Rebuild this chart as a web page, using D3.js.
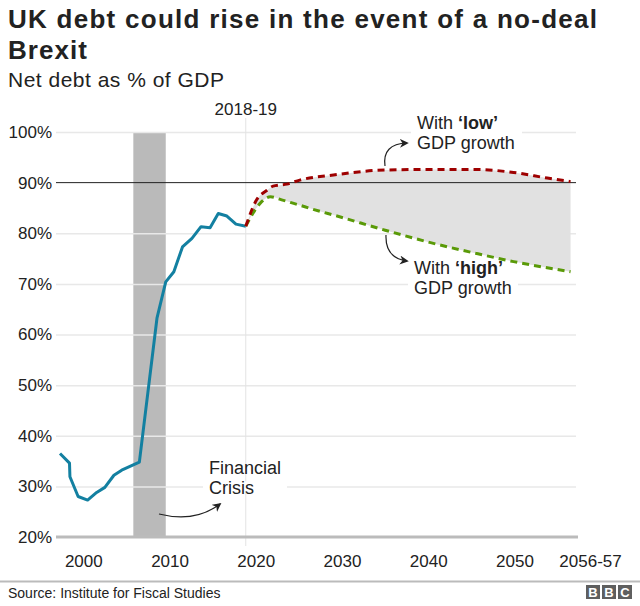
<!DOCTYPE html>
<html>
<head>
<meta charset="utf-8">
<script src="https://cdnjs.cloudflare.com/ajax/libs/d3/7.8.5/d3.min.js"></script>
<style>
  body { margin: 0; background: #fff; }
  svg { display: block; font-family: "Liberation Sans", Arial, Helvetica, sans-serif; }
</style>
</head>
<body>
<div id="chart"></div>
<script>
// Net debt as % of GDP
const outturnYears = [1997.3, 1998.4, 1998.45, 1999.4, 2000.5, 2001.55, 2002.5, 2003.55, 2004.45, 2006.5, 2008.55, 2009.56, 2010.5, 2011.5, 2012.6, 2013.65, 2014.7, 2015.65, 2016.65, 2017.7, 2018.84];
const outturnDebt  = [36.5, 34.6, 31.9, 28.0, 27.3, 28.8, 29.8, 32.2, 33.2, 34.8, 63.3, 70.4, 72.4, 77.3, 79.0, 81.3, 81.1, 83.9, 83.4, 81.8, 81.4];

const lowYears = [2018.84, 2020.1, 2021.3, 2022.0, 2023.6, 2025.1, 2029, 2035, 2040.6, 2045.6, 2049.9, 2053.8, 2056.5];
const lowDebt  = [81.4, 86.6, 88.5, 89.3, 89.7, 90.5, 91.5, 92.5, 92.6, 92.6, 92.0, 90.9, 90.2];

const highYears = [2018.84, 2020.5, 2021.7, 2023.0, 2024.4, 2027.5, 2029, 2035, 2040.6, 2045.6, 2049.9, 2056.5];
const highDebt  = [81.4, 85.9, 87.2, 86.6, 85.9, 84.3, 83.6, 80.6, 78.0, 76.0, 74.4, 72.4];

const crisisPeriod = [2005.8, 2009.56];
const forecastStart = 2018.84;

const yTicks = [20, 30, 40, 50, 60, 70, 80, 90, 100];
const xTicks = [2000, 2010, 2020, 2030, 2040, 2050];
const lastTickLabel = "2056-57";

const width = 640, height = 606;
const left = 56, right = 576;

const svg = d3.select('#chart').append('svg')
    .attr('width', width)
    .attr('height', height);

const x = d3.scaleLinear().domain([2000, 2050]).range([83.3, 514.5]);
const y = d3.scaleLinear().domain([20, 100]).range([537, 132]);

// Title block
svg.append('text').attr('x', 8).attr('y', 28)
    .attr('textLength', 589).attr('lengthAdjust', 'spacing')
    .style('font-size', '26px').style('font-weight', 'bold').style('fill', '#222')
    .text('UK debt could rise in the event of a no-deal');
svg.append('text').attr('x', 8).attr('y', 59)
    .attr('textLength', 79).attr('lengthAdjust', 'spacing')
    .style('font-size', '26px').style('font-weight', 'bold').style('fill', '#222')
    .text('Brexit');
svg.append('text').attr('x', 8).attr('y', 87)
    .attr('textLength', 216).attr('lengthAdjust', 'spacing')
    .style('font-size', '21px').style('fill', '#222')
    .text('Net debt as % of GDP');

// Crisis bar
svg.append('rect')
    .attr('x', x(crisisPeriod[0]))
    .attr('y', y(100))
    .attr('width', x(crisisPeriod[1]) - x(crisisPeriod[0]))
    .attr('height', y(20) - y(100))
    .attr('fill', '#bababa');

// Y axis with gridlines
const yAxis = svg.append('g')
    .attr('transform', `translate(${left},0)`)
    .call(d3.axisLeft(y).tickValues(yTicks).tickSize(-(right - left)).tickPadding(4).tickFormat(d => d + '%'));
yAxis.select('.domain').remove();
yAxis.selectAll('line').attr('stroke', '#e8e8e8').attr('stroke-width', 1.5);
yAxis.selectAll('text').style('font-size', '17px').style('fill', '#222').attr('font-family', null);
yAxis.selectAll('.tick').filter(d => d === 20 || d === 90).select('line').remove();

// Vertical 2018-19 marker
svg.append('line')
    .attr('x1', x(forecastStart)).attr('x2', x(forecastStart))
    .attr('y1', 118).attr('y2', 546)
    .attr('stroke', '#e3e3e3').attr('stroke-width', 1);
svg.append('text')
    .attr('x', x(forecastStart)).attr('y', 115)
    .attr('text-anchor', 'middle')
    .style('font-size', '17px').style('fill', '#222')
    .text('2018-19');

// White label backgrounds that break the gridlines
[[411, 522, 100], [408, 518, 70], [203, 287, 30]].forEach(([a, b, v]) => {
    svg.append('rect').attr('x', a).attr('width', b - a)
        .attr('y', y(v) - 5).attr('height', 10).attr('fill', '#fff');
});

// Shaded range between scenarios
const lowPts = lowYears.map((d, i) => [x(d), y(lowDebt[i])]);
const highPts = highYears.map((d, i) => [x(d), y(highDebt[i])]);
const smooth = d3.line().curve(d3.curveMonotoneX);
const areaPath = smooth(lowPts) + 'L' + smooth(highPts.slice().reverse()).slice(1) + 'Z';
svg.append('path').attr('d', areaPath).attr('fill', '#e1e1e1');

// Baseline
svg.append('line')
    .attr('x1', left).attr('x2', right + 2)
    .attr('y1', y(20)).attr('y2', y(20))
    .attr('stroke', '#bbb').attr('stroke-width', 3);

// 90% line
svg.append('line')
    .attr('x1', left).attr('x2', right)
    .attr('y1', y(90)).attr('y2', y(90))
    .attr('stroke', '#222').attr('stroke-width', 1);

// X axis
const xAxis = svg.append('g')
    .attr('transform', `translate(0,${y(20)})`)
    .call(d3.axisBottom(x).tickValues(xTicks).tickSize(0).tickPadding(18).tickFormat(d3.format('d')));
xAxis.select('.domain').remove();
xAxis.selectAll('text').style('font-size', '17px').style('fill', '#222').attr('font-family', null);
svg.append('text')
    .attr('x', x(2056.5) + 20).attr('y', y(20) + 18 + 12.1)
    .attr('text-anchor', 'middle')
    .style('font-size', '17px').style('fill', '#222')
    .text(lastTickLabel);

// Outturn line
svg.append('path')
    .datum(outturnYears.map((d, i) => [x(d), y(outturnDebt[i])]))
    .attr('d', d3.line())
    .attr('fill', 'none').attr('stroke', '#1380A1').attr('stroke-width', 3)
    .attr('stroke-linejoin', 'round');

// Scenario lines
svg.append('path').attr('d', smooth(highPts))
    .attr('fill', 'none').attr('stroke', '#5a9a08').attr('stroke-width', 3)
    .attr('stroke-dasharray', '7,5');
svg.append('path').attr('d', smooth(lowPts))
    .attr('fill', 'none').attr('stroke', '#9e0000').attr('stroke-width', 3)
    .attr('stroke-dasharray', '7,5');

// Arrow marker
svg.append('defs').append('marker')
    .attr('id', 'arrow')
    .attr('viewBox', '0 0 10 10')
    .attr('refX', 8).attr('refY', 5)
    .attr('markerWidth', 9).attr('markerHeight', 9)
    .attr('markerUnits', 'userSpaceOnUse')
    .attr('orient', 'auto')
    .append('path').attr('d', 'M0,0 L10,5 L0,10 L3,5 Z').attr('fill', '#222');

const arrows = [
    'M385,166 Q382,144 407,143',
    'M386,235 Q385,258 407,261',
    'M159,514 Q195,523 220,504'
];
arrows.forEach(d => {
    svg.append('path').attr('d', d)
        .attr('fill', 'none').attr('stroke', '#222').attr('stroke-width', 1.2)
        .attr('marker-end', 'url(#arrow)');
});

// Annotations
function note(px, py, first, bold, second) {
    const t = svg.append('text').attr('x', px).attr('y', py)
        .style('font-size', '18px').style('fill', '#222');
    t.append('tspan').text(first);
    if (bold) t.append('tspan').style('font-weight', 'bold').text(bold);
    svg.append('text').attr('x', px).attr('y', py + 20)
        .style('font-size', '18px').style('fill', '#222')
        .text(second);
}
note(417, 129, 'With ', '‘low’', 'GDP growth');
note(414, 274, 'With ', '‘high’', 'GDP growth');
note(209, 474, 'Financial', null, 'Crisis');

// Footer
svg.append('line')
    .attr('x1', 0).attr('x2', width)
    .attr('y1', 581.5).attr('y2', 581.5)
    .attr('stroke', '#bbb').attr('stroke-width', 2);
svg.append('text').attr('x', 8).attr('y', 598)
    .style('font-size', '14px').style('fill', '#222')
    .text('Source: Institute for Fiscal Studies');

const logo = svg.append('g').attr('transform', 'translate(586,585)');
['B', 'B', 'C'].forEach((c, i) => {
    logo.append('rect').attr('x', i * 16).attr('y', 0)
        .attr('width', 14).attr('height', 14).attr('fill', '#5f5f5f');
    logo.append('text').attr('x', i * 16 + 7).attr('y', 12)
        .attr('text-anchor', 'middle')
        .style('font-size', '13px').style('font-weight', 'bold').style('fill', '#fff')
        .text(c);
});
</script>
</body>
</html>
